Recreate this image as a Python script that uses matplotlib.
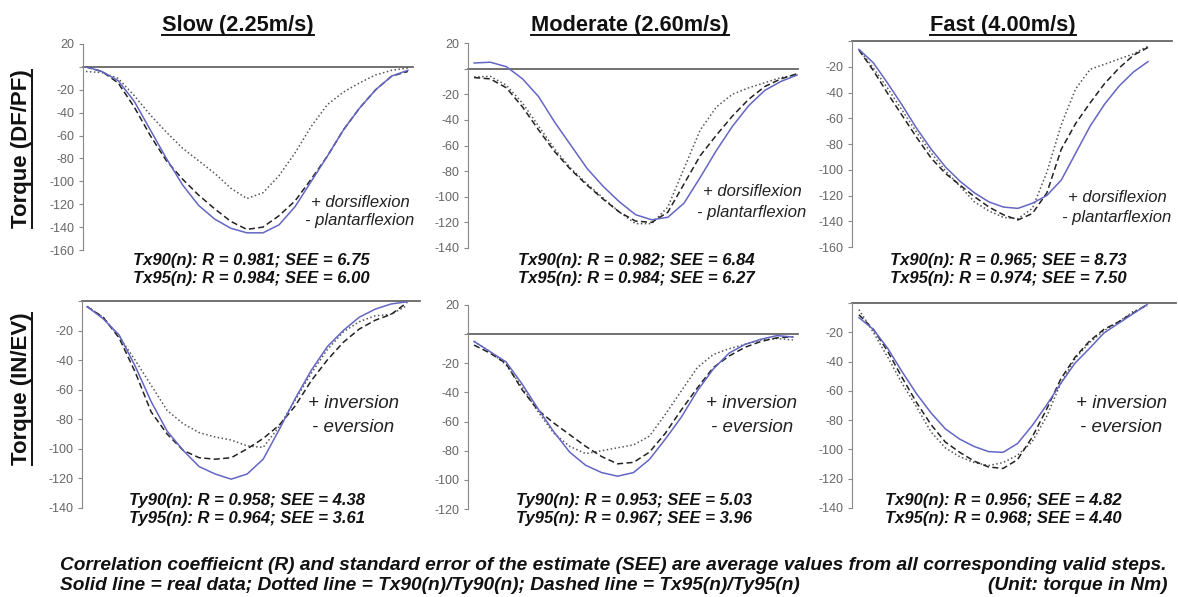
import numpy as np
import matplotlib
matplotlib.use("Agg")
import matplotlib.pyplot as plt
from matplotlib.lines import Line2D
from matplotlib.ticker import FuncFormatter

W, H = 1178, 597
plt.rcParams.update({"font.family": ["Liberation Sans", "DejaVu Sans"]})

REAL = "#6466C4"; INK = "#222222"; DOT = "#555555"; AXC = "#888888"; TICKC = "#666666"

# stance phase (%), shared x grid for every curve
STANCE = [0, 5, 10, 15, 20, 25, 30, 35, 40, 45, 50, 55, 60, 65, 70, 75, 80, 85, 90, 95, 100]

# DF/PF torque (Nm)
SLOW_DF_REAL = [0, -4, -12, -30, -55, -80, -103, -121, -133, -141, -145, -145, -138, -122, -100, -78, -55, -36, -20, -8, -3]
SLOW_DF_T95 = [0, -4, -14, -35, -60, -82, -98, -112, -124, -135, -142, -140, -130, -117, -98, -78, -55, -36, -20, -8, -4]
SLOW_DF_T90 = [-4, -5, -10, -25, -42, -57, -71, -82, -93, -106, -115, -110, -95, -75, -52, -33, -22, -14, -7, -3, -1]

MOD_DF_REAL = [4.4, 5, 1.5, -8, -22, -42, -60, -78, -92, -104, -114, -118, -116, -105, -85, -64, -45, -29, -17, -10, -5]
MOD_DF_T95 = [-7, -8, -15, -30, -48, -65, -79, -91, -102, -112, -119, -120, -112, -90, -68, -52, -37, -24, -14, -8, -4]
MOD_DF_T90 = [-6.5, -6, -13, -27, -45, -63, -78, -90, -101, -112, -121, -121, -108, -78, -48, -30, -20, -15, -11, -7, -5]

FAST_DF_REAL = [-6.5, -17, -33, -50, -68, -84, -98, -109, -118, -125, -129, -130, -126, -120, -108, -87, -66, -49, -35, -24, -16]
FAST_DF_T95 = [-7, -23, -41, -58, -75, -91, -103, -112, -121, -129, -135, -139, -134, -118, -84, -64, -48, -33, -21, -11, -5]
FAST_DF_T90 = [-6.5, -21, -37, -54, -71, -87, -101, -113, -125, -132, -137, -138, -130, -102, -65, -37, -22, -18, -14, -10, -4]

# IN/EV torque (Nm)
SLOW_IE_REAL = [-3.8, -12, -23, -44, -68, -88, -101, -112, -117, -120.5, -117, -107, -87, -66, -47, -31, -20, -11, -5.5, -2, -0.5]
SLOW_IE_T95 = [-3.8, -11, -25, -48, -75, -90, -101, -106, -107, -106, -100, -93, -84, -71, -54, -40, -28, -19, -13, -9, -1]
SLOW_IE_T90 = [-3.8, -11, -24, -40, -57, -74, -83, -89, -92, -94, -98, -99, -85, -67, -49, -33, -21, -14, -10, -9, -3]

MOD_IE_REAL = [-5, -12, -19, -34, -51, -67, -81, -90, -95, -97.5, -95, -86, -72, -57, -39, -24, -13, -7, -3.5, -1, -2]
MOD_IE_T95 = [-7.5, -13, -20, -38, -52, -61, -69, -77, -84, -89, -88, -81, -68, -52, -37, -23, -15, -9, -5, -2.5, -1.8]
MOD_IE_T90 = [-5, -12, -21, -36, -53, -68, -77, -82, -80, -78, -76, -70, -55, -39, -23, -14, -10, -7, -4, -3, -4]

FAST_IE_REAL = [-10, -18, -31, -47, -62, -75, -86, -93, -98, -101.5, -102, -96, -84, -70, -55, -41, -31, -20.5, -14, -7.5, -1]
FAST_IE_T95 = [-8, -18, -33, -51, -68, -83, -95, -102, -108, -112, -113, -107, -92, -73, -52, -37, -26, -18, -13, -7, -1]
FAST_IE_T90 = [-4.5, -20, -37, -55, -71, -88, -99, -105, -109, -111, -109, -104, -95, -78, -55, -38, -27, -19, -13, -6, -2]

TITLES = ["Slow (2.25m/s)", "Moderate (2.60m/s)", "Fast (4.00m/s)"]
ROW_LABELS = ["Torque (DF/PF)", "Torque (IN/EV)"]
STATS = [
    ["Tx90(n): R = 0.981; SEE = 6.75", "Tx95(n): R = 0.984; SEE = 6.00"],
    ["Tx90(n): R = 0.982; SEE = 6.84", "Tx95(n): R = 0.984; SEE = 6.27"],
    ["Tx90(n): R = 0.965; SEE = 8.73", "Tx95(n): R = 0.974; SEE = 7.50"],
    ["Ty90(n): R = 0.958; SEE = 4.38", "Ty95(n): R = 0.964; SEE = 3.61"],
    ["Ty90(n): R = 0.953; SEE = 5.03", "Ty95(n): R = 0.967; SEE = 3.96"],
    ["Tx90(n): R = 0.956; SEE = 4.82", "Tx95(n): R = 0.968; SEE = 4.40"],
]
SIGN_NOTES = [["+ dorsiflexion", "- plantarflexion"], ["+ inversion", "- eversion"]]
FOOT1 = ("Correlation coeffieicnt (R) and standard error of the estimate (SEE) "
         "are average values from all corresponding valid steps.")
FOOT2 = "Solid line = real data; Dotted line = Tx90(n)/Ty90(n); Dashed line = Tx95(n)/Ty95(n)"
FOOT_UNIT = "(Unit: torque in Nm)"

CURVES = [
    (SLOW_DF_REAL, SLOW_DF_T90, SLOW_DF_T95), (MOD_DF_REAL, MOD_DF_T90, MOD_DF_T95),
    (FAST_DF_REAL, FAST_DF_T90, FAST_DF_T95), (SLOW_IE_REAL, SLOW_IE_T90, SLOW_IE_T95),
    (MOD_IE_REAL, MOD_IE_T90, MOD_IE_T95), (FAST_IE_REAL, FAST_IE_T90, FAST_IE_T95),
]
YLIMS = [(-160, 20), (-140, 20), (-160, 0), (-140, 0), (-120, 20), (-140, 0)]

# layout in pixels: (left, right, top, bottom), xlim, stats centre, note centre/ys
BOXES = [(83, 413, 44, 250), (468, 798, 43, 248), (852, 1172, 41, 247),
         (82, 420, 301, 508), (468, 798, 305, 509), (852, 1176, 303, 508)]
XLIMS = [(-0.9, 101.6), (-1.9, 100.3), (-2.4, 108.3), (-1.6, 104), (-1.9, 101.6), (-2.4, 110)]
STAT_X = [251, 636, 1008, 247, 634, 1003]
STAT_Y = [(260, 278), (260, 278), (260, 278), (500, 519), (500, 519), (500, 519)]
NOTE_X = [360, 752, 1117, 353, 752, 1121]
NOTE_Y = [(202, 221), (191, 212), (197, 217), (403, 427), (403, 427), (403, 427)]


def fx(x):
    return x / W


def fy(y):
    return 1 - y / H


fig = plt.figure(figsize=(W / 100, H / 100), dpi=100)
fig.patch.set_facecolor("white")

for i, (real, t90, t95) in enumerate(CURVES):
    l, r, t, b = BOXES[i]
    ax = fig.add_axes([fx(l), fy(b), (r - l) / W, (b - t) / H])
    ax.axhline(0, color="#666666", lw=1.3, zorder=1, clip_on=False)
    ax.plot(STANCE, t90, color=DOT, lw=1.1, ls=(0, (1, 1.6)), zorder=2)
    ax.plot(STANCE, t95, color=INK, lw=1.1, ls=(0, (4, 2.2)), zorder=3)
    ax.plot(STANCE, real, color=REAL, lw=1.1, zorder=4)
    lo, hi = YLIMS[i]
    ax.set_ylim(lo, hi)
    ax.set_xlim(*XLIMS[i])
    ax.set_yticks(np.arange(lo, hi + 1, 20))
    ax.yaxis.set_major_formatter(FuncFormatter(lambda v, p: "" if abs(v) < 1e-9 else f"{v:.0f}"))
    ax.set_xticks([])
    for s in ("top", "right", "bottom"):
        ax.spines[s].set_visible(False)
    ax.spines["left"].set_color(AXC)
    ax.tick_params(axis="y", direction="out", length=3, color=AXC,
                   labelcolor=TICKC, labelsize=9, pad=3)
    ax.patch.set_alpha(0)

    row = i // 3
    fs_note = 12 if row == 0 else 13.5
    for k in range(2):
        fig.text(fx(NOTE_X[i]), fy(NOTE_Y[i][k]), SIGN_NOTES[row][k], ha="center", va="center",
                 style="italic", fontsize=fs_note, color="#222222")
        fig.text(fx(STAT_X[i]), fy(STAT_Y[i][k]), STATS[i][k], ha="center", va="center",
                 style="italic", fontweight="bold", fontsize=12, color="#111111")

# titles and row labels, underlined by hand
heads = []
for x, title in zip([238, 630, 1003], TITLES):
    heads.append((fig.text(fx(x), fy(25), title, ha="center", va="center",
                           fontweight="bold", fontsize=15.7, color="#111111"), False))
for y, lab in zip([149, 389], ROW_LABELS):
    heads.append((fig.text(fx(21), fy(y), lab, ha="center", va="center", rotation=90,
                           fontweight="bold", fontsize=16, color="#111111"), True))

fig.text(fx(60), fy(566), FOOT1, ha="left", va="center", style="italic",
         fontweight="bold", fontsize=13.8, color="#111111")
fig.text(fx(60), fy(586), FOOT2, ha="left", va="center", style="italic",
         fontweight="bold", fontsize=13.8, color="#111111")
fig.text(fx(1168), fy(586), FOOT_UNIT, ha="right", va="center", style="italic",
         fontweight="bold", fontsize=13.8, color="#111111")

rend = fig.canvas.get_renderer()
inv = fig.transFigure.inverted()
for txt, vertical in heads:
    bb = txt.get_window_extent(rend).transformed(inv)
    if vertical:
        xs, ys = [bb.x1 + 0.5 / W] * 2, [bb.y0, bb.y1]
    else:
        xs, ys = [bb.x0, bb.x1], [bb.y0 + 1 / H] * 2
    fig.add_artist(Line2D(xs, ys, transform=fig.transFigure, color="#111111", lw=1.4))

fig.savefig("out.png", dpi=100, facecolor="white")
